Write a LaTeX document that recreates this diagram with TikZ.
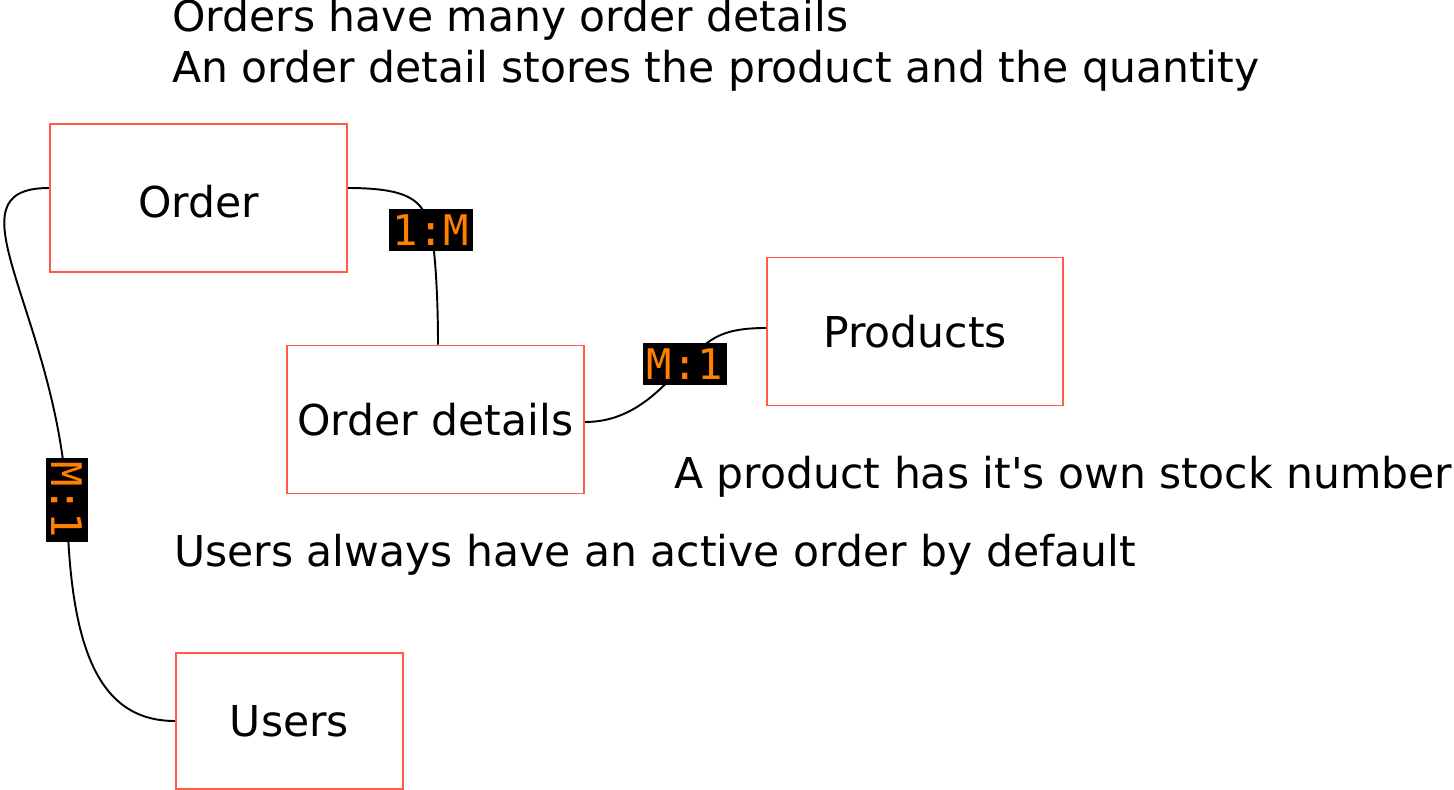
\documentclass[tikz,border=0pt]{standalone}
\usepackage{fontspec}
\setmainfont{DejaVu Sans}
\setmonofont{DejaVu Sans Mono}
\usepackage{tikz}
\usetikzlibrary{backgrounds}
\definecolor{entityRed}{HTML}{FF5A4A}
\definecolor{cardOrange}{HTML}{FF8000}

\begin{document}
\begin{tikzpicture}[
  x=0.02cm, y=-0.02cm,
  every node/.style={font=\fontsize{24.2}{29}\selectfont},
  entity/.style={
    rectangle, draw=entityRed, line width=1.1pt, fill=white,
    minimum width=5.94cm, minimum height=2.96cm, inner sep=0pt
  },
  cardinality/.style={
    rectangle, fill=black, text=cardOrange, inner sep=0pt,
    minimum width=1.7cm, minimum height=0.86cm,
    font=\ttfamily\fontsize{24}{28}\selectfont
  },
  note/.style={anchor=base west, inner sep=0pt},
  link/.style={draw=black, line width=1.1pt},
]
\useasboundingbox (0,0) rectangle (1454,790);

% === Notes ===
\node[note] (noteMany) at (172,32) {Orders have many order details};
\node[note] (noteDetail) at (172,83) {An order detail stores the product and the quantity};
\node[note] (noteStock) at (674,488) {A product has it\textquotesingle s own stock number};
\node[note] (noteUsers) at (174,566) {Users always have an active order by default};

% === Entities ===
\node[entity, text height=0.81cm] (order) at (198.5,198) {Order};
\node[entity] (details) at (435.5,419.5) {Order details};
\node[entity, minimum width=5.92cm] (products) at (915,331.5) {Products};
\node[entity, minimum width=4.54cm, minimum height=2.72cm] (users) at (289.5,721) {Users};

% === Cardinalities ===
\node[cardinality] (cardOD) at (431,230) {1:M};
\node[cardinality] (cardDP) at (685,364) {M:1};
\node[cardinality, rotate=-90] (cardOU) at (67,500) {M:1};

% === Relations ===
\begin{pgfonlayer}{background}
\draw[link] ([yshift=0.2cm]order.east) .. controls +(70,0) and +(-8,-25) .. (cardOD.center)
  .. controls +(4,20) and +(0,-50) .. ([xshift=0.05cm]details.north);
\draw[link] ([yshift=-0.05cm]details.east) .. controls +(50,0) and +(-22,22) .. (cardDP.center)
  .. controls +(22,-22) and +(-50,0) .. ([yshift=0.07cm]products.west);
\draw[link] ([yshift=0.2cm]order.west) .. controls +(-105,0) and +(-12,-190) .. (cardOU.center)
  .. controls +(2,150) and +(-76,0) .. (users.west);
\end{pgfonlayer}

\end{tikzpicture}
\end{document}
